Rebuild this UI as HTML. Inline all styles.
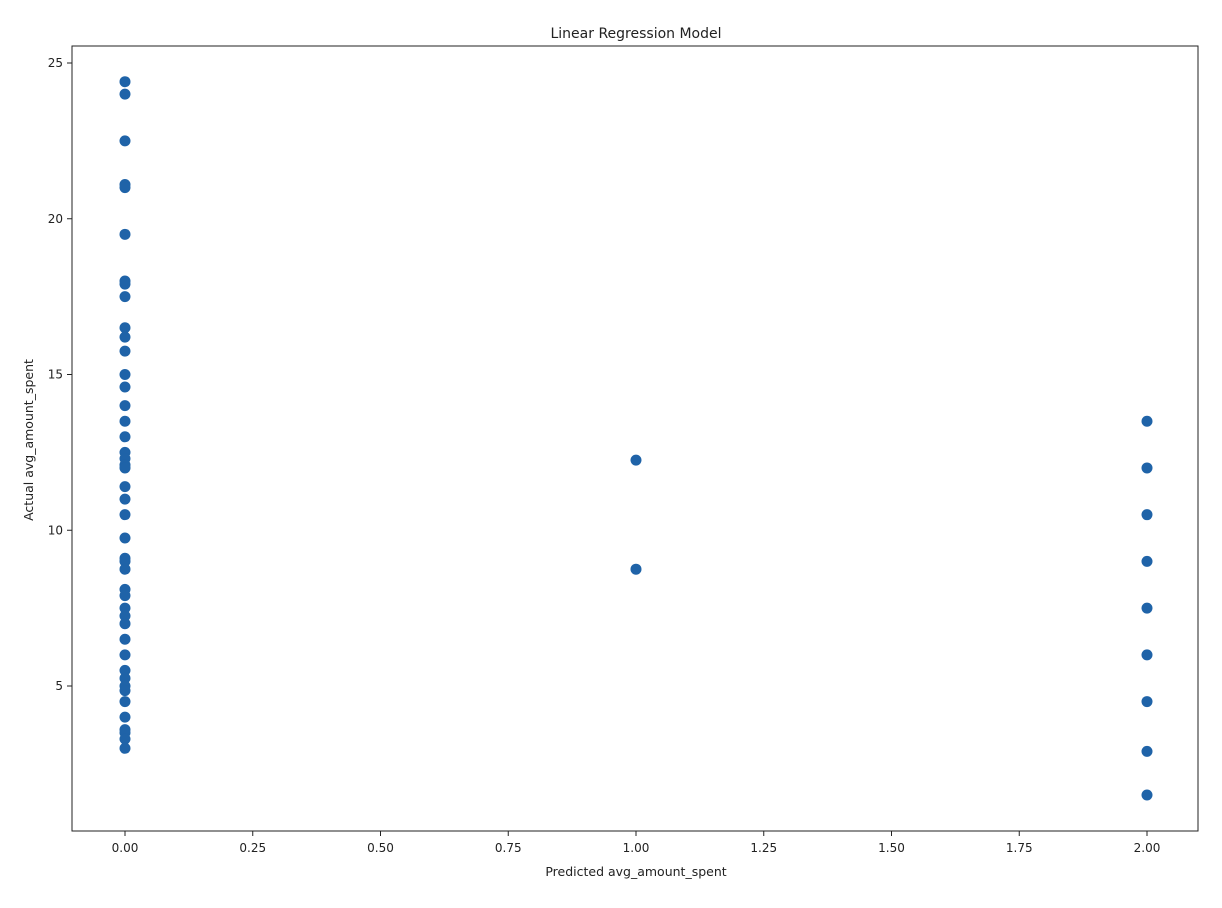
<!DOCTYPE html>
<html><head><meta charset="utf-8"><style>
body{margin:0;background:#fff;font-family:"DejaVu Sans","Liberation Sans",sans-serif;}
</style></head><body>
<svg id="chart" width="1222" height="904" font-family="DejaVu Sans, Liberation Sans, sans-serif">
<text x="636" y="38" text-anchor="middle" font-size="14" fill="#222">Linear Regression Model</text>
<rect x="72" y="46" width="1126" height="785" fill="none" stroke="#222" stroke-width="1"/>
<g id="xt"></g>
<g id="yt"></g>
<g id="pts"></g>
<text x="636" y="876" text-anchor="middle" font-size="12.5" fill="#222">Predicted avg_amount_spent</text>
<text transform="translate(33,440) rotate(-90)" text-anchor="middle" font-size="12.5" fill="#222">Actual avg_amount_spent</text>
</svg>
<script>
const xTicks=[0,0.25,0.5,0.75,1,1.25,1.5,1.75,2];
const xTickLabels=["0.00","0.25","0.50","0.75","1.00","1.25","1.50","1.75","2.00"];
const yTicks=[5,10,15,20,25];
const predicted0=[24.4,24.0,22.5,21.1,21.0,19.5,18.0,17.9,17.5,16.5,16.2,15.75,15.0,14.6,14.0,13.5,13.0,12.5,12.3,12.1,12.0,11.4,11.0,10.5,9.75,9.1,9.0,8.75,8.1,7.9,7.5,7.25,7.0,6.5,6.0,5.5,5.25,5.0,4.85,4.5,4.0,3.6,3.5,3.3,3.0];
const predicted1=[12.25,8.75];
const predicted2=[13.5,12.0,10.5,9.0,7.5,6.0,4.5,2.9,1.5];
const NS="http://www.w3.org/2000/svg";
function sx(v){return 125+v*511;}
function sy(v){return 63+(25-v)*31.15;}
function mk(tag,attrs,parent){const e=document.createElementNS(NS,tag);for(const k in attrs)e.setAttribute(k,attrs[k]);parent.appendChild(e);return e;}
const xt=document.getElementById('xt'),yt=document.getElementById('yt'),pts=document.getElementById('pts');
xTicks.forEach((t,i)=>{
  const l=mk('line',{x1:sx(t),x2:sx(t),y1:831,y2:836,stroke:'#222'},xt);
  
  
  const tx=mk('text',{x:sx(t),y:852,'text-anchor':'middle','font-size':12,fill:'#222'},xt);
  tx.textContent=xTickLabels[i];
  
  
});
yTicks.forEach(t=>{
  const l=mk('line',{x1:67,x2:72,y1:sy(t),y2:sy(t),stroke:'#222'},yt);
  
  
  const tx=mk('text',{x:63,y:sy(t)+4,'text-anchor':'end','font-size':12,fill:'#222'},yt);
  tx.textContent=t;
  
  
});
[[0,predicted0],[1,predicted1],[2,predicted2]].forEach(([x,arr])=>{
  arr.forEach(v=>{
    const c=mk('circle',{cx:sx(x),cy:sy(v),r:5.5,fill:'#1f63a8'},pts);
    
    
  });
});
</script>
</body></html>
